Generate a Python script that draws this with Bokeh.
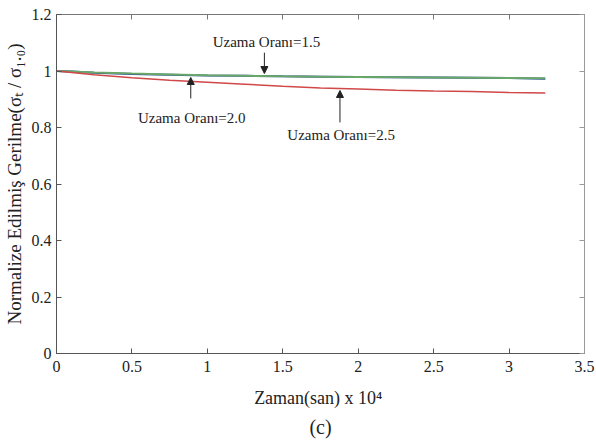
from bokeh.plotting import figure
from bokeh.models import LinearAxis, Range1d, FixedTicker, Label, Arrow, NormalHead, Title
from bokeh.embed import file_html
from bokeh.resources import INLINE

# Time (x 10^4 s)
t = [0, 0.1, 0.25, 0.5, 0.75, 1.0, 1.25, 1.5, 1.75, 2.0, 2.25, 2.5, 2.75, 3.0, 3.24]
# Normalized stress for stretch ratios
s_15 = [1.0, 0.998, 0.994, 0.989, 0.987, 0.984, 0.983, 0.981, 0.980, 0.979, 0.978, 0.977, 0.976, 0.975, 0.973]
s_20 = [1.0, 0.998, 0.995, 0.991, 0.988, 0.985, 0.983, 0.981, 0.980, 0.979, 0.978, 0.977, 0.976, 0.975, 0.974]
s_25 = [1.0, 0.995, 0.987, 0.976, 0.967, 0.960, 0.953, 0.946, 0.940, 0.936, 0.932, 0.929, 0.927, 0.924, 0.922]

x_ticks = [0, 0.5, 1, 1.5, 2, 2.5, 3, 3.5]
y_ticks = [0, 0.2, 0.4, 0.6, 0.8, 1, 1.2]
x_tick_labels = {0: "0", 0.5: "0.5", 1: "1", 1.5: "1.5", 2: "2", 2.5: "2.5", 3: "3", 3.5: "3.5"}
y_tick_labels = {0: "0", 0.2: "0.2", 0.4: "0.4", 0.6: "0.6", 0.8: "0.8", 1: "1", 1.2: "1.2"}

FONT = "Times New Roman"

p = figure(width=596, height=447, output_backend="svg", toolbar_location=None,
           x_range=Range1d(0, 3.5), y_range=Range1d(0, 1.2),
           min_border_left=53, min_border_right=12, min_border_top=14, min_border_bottom=94)
p.grid.visible = False
p.outline_line_color = "#999999"
p.background_fill_color = "white"
p.border_fill_color = "white"

p.line(t, s_15, line_color="#1f3f9f", line_width=2)
p.line(t, s_20, line_color="#6aa86a", line_width=2)
p.line(t, s_25, line_color="#d04848", line_width=1.5)

for ax, ticks, labels in ((p.xaxis[0], x_ticks, x_tick_labels), (p.yaxis[0], y_ticks, y_tick_labels)):
    ax.ticker = FixedTicker(ticks=ticks)
    ax.major_label_overrides = labels
    ax.major_tick_in = 5
    ax.major_tick_out = 0
    ax.minor_tick_in = 0
    ax.minor_tick_out = 0
    ax.axis_line_color = "#555555"
    ax.major_tick_line_color = "#555555"
    ax.major_label_text_font = FONT
    ax.major_label_text_font_size = "16px"
    ax.major_label_text_color = "#222222"
    ax.axis_label_text_font = FONT
    ax.axis_label_text_font_style = "normal"
    ax.axis_label_text_color = "#222222"

p.xaxis[0].major_label_standoff = 7
p.xaxis[0].axis_label = "Zaman(san)  x 10\u2074"
p.xaxis[0].axis_label_text_font_size = "18px"
p.xaxis[0].axis_label_standoff = 13
p.yaxis[0].major_label_standoff = 5
p.yaxis[0].axis_label = "Normalize Edilmi\u015f Gerilme(\u03c3\u209c / \u03c3\u2081.\u2080)"
p.yaxis[0].axis_label_standoff = 4
p.yaxis[0].axis_label_text_font_size = "19px"

top = LinearAxis(ticker=FixedTicker(ticks=x_ticks), major_label_overrides={k: "" for k in x_ticks},
                 major_tick_in=5, major_tick_out=0, minor_tick_in=0, minor_tick_out=0,
                 major_label_standoff=0, major_label_text_font_size="1px",
                 axis_line_color="#777777", major_tick_line_color="#777777")
right = LinearAxis(ticker=FixedTicker(ticks=y_ticks), major_label_overrides={k: "" for k in y_ticks},
                   major_tick_in=5, major_tick_out=0, minor_tick_in=0, minor_tick_out=0,
                   major_label_standoff=0, major_label_text_font_size="1px",
                   axis_line_color="#999999", major_tick_line_color="#999999")
p.add_layout(top, "above")
p.add_layout(right, "right")

p.add_layout(Title(text="(c)", align="center", text_font=FONT, text_font_size="20px",
                   text_font_style="normal", text_color="#222222", standoff=6), "below")

for x, y, txt in ((1.035, 1.104, "Uzama Oran\u0131=1.5"),
                  (0.54, 0.835, "Uzama Oran\u0131=2.0"),
                  (1.53, 0.772, "Uzama Oran\u0131=2.5")):
    p.add_layout(Label(x=x, y=y, text=txt, text_font=FONT, text_font_size="15px",
                       text_baseline="middle", text_align="left", text_color="#222222"))

for x, y0, y1 in ((1.378, 1.065, 0.991), (0.89, 0.903, 0.977), (1.879, 0.818, 0.931)):
    p.add_layout(Arrow(x_start=x, y_start=y0, x_end=x, y_end=y1, line_color="#222222", line_width=1,
                       end=NormalHead(size=7, fill_color="#222222", line_color="#222222")))

open("out.html", "w").write(file_html(p, INLINE))
